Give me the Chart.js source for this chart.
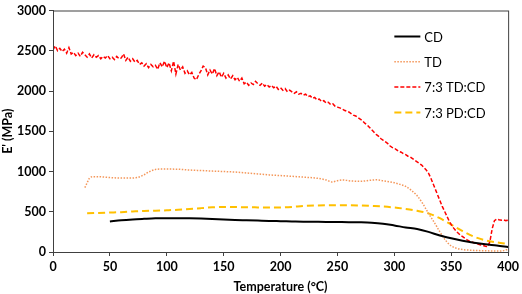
<!DOCTYPE html>
<html>
<head>
<meta charset="utf-8">
<script src="https://cdn.jsdelivr.net/npm/chart.js@4.4.1/dist/chart.umd.min.js"></script>
<style>
  html, body { margin: 0; padding: 0; background: #fff; }
  #wrap { width: 522px; height: 294px; position: relative; }
</style>
</head>
<body>
<div id="wrap"><canvas id="grafica"></canvas></div>
<script>
// ========== DATOS ==========
const tempCD = [50, 60, 70, 80, 90, 100, 110, 120, 130, 140, 150, 160, 170, 180, 190, 200, 210, 220, 230, 240, 250, 260, 270, 280, 290, 300, 310, 320, 330, 340, 350, 360, 370, 380, 390, 400];
const valCD = [380, 395, 405, 412, 418, 420, 420, 418, 415, 410, 403, 398, 394, 390, 386, 383, 380, 377, 375, 373, 372, 371, 369, 364, 352, 330, 305, 285, 250, 205, 170, 140, 115, 95, 80, 62];

const tempTD = [28, 30, 32, 35, 40, 50, 60, 70, 75, 80, 85, 90, 95, 100, 110, 120, 130, 140, 150, 160, 170, 180, 190, 200, 210, 220, 230, 240, 245, 250, 255, 260, 270, 280, 285, 290, 300, 305, 310, 315, 320, 325, 330, 335, 340, 345, 350, 355, 360, 370, 380, 390, 395, 400];
const valTD = [800, 860, 915, 935, 935, 925, 918, 920, 928, 960, 1000, 1025, 1030, 1030, 1028, 1018, 1012, 1005, 1000, 993, 982, 970, 958, 949, 940, 930, 920, 895, 870, 885, 895, 885, 878, 893, 897, 885, 860, 840, 815, 765, 700, 600, 480, 370, 250, 145, 75, 45, 30, 20, 15, 12, 15, 35];

const tempTDCD = [
  0, 2, 4, 6, 8, 10, 12, 14, 16, 18, 20, 22, 24, 26, 28, 30, 32, 34, 36, 38,
  40, 42, 44, 46, 48, 50, 52, 54, 56, 58, 60, 62, 64, 66, 68, 70, 72, 74, 76, 78,
  80, 82, 84, 86, 88, 90, 92, 94, 96, 98, 100, 102, 104, 106, 108, 110, 112, 114, 116, 118,
  120, 122, 124, 126, 128, 130, 132, 134, 136, 138, 140, 142, 144, 146, 148, 150, 152, 154, 156, 158,
  160, 162, 164, 166, 168, 170, 172, 174, 176, 178, 180, 182, 184, 186, 188, 190, 192, 194, 196, 198,
  200, 202, 204, 206, 208, 210, 212, 214, 216, 218, 220, 222, 224, 226, 228, 230, 232, 234, 236, 238,
  240, 242, 244, 246, 248, 250, 252, 254, 256, 258, 260, 262, 264, 266, 268, 270, 272, 274, 276, 278,
  280, 282, 284, 286, 288, 290, 292, 294, 296, 298, 300, 302, 304, 306, 308, 310, 312, 314, 316, 318,
  320, 322, 324, 326, 328, 330, 332, 334, 336, 338, 340, 342, 344, 346, 348, 350, 352, 354, 356, 358,
  360, 362, 364, 366, 368, 370, 372, 374, 376, 378, 380, 382, 384, 386, 388, 390, 392, 394, 396, 398, 400
];
const valTDCD = [
  2510, 2560, 2500, 2530, 2490, 2520, 2470, 2540, 2460, 2480, 2440, 2470, 2430, 2480, 2450, 2420, 2460, 2410, 2450, 2420,
  2440, 2400, 2430, 2410, 2440, 2400, 2420, 2390, 2430, 2400, 2410, 2460, 2380, 2420, 2370, 2400, 2360, 2380, 2330, 2350,
  2310, 2340, 2290, 2330, 2300, 2320, 2270, 2350, 2300, 2370, 2290, 2350, 2250, 2370, 2210, 2330, 2260, 2300, 2220, 2250,
  2200, 2230, 2160, 2140, 2200, 2250, 2310, 2290, 2200, 2260, 2210, 2280, 2190, 2240, 2170, 2220, 2160, 2200, 2150, 2190,
  2140, 2170, 2120, 2160, 2090, 2110, 2070, 2100, 2080, 2120, 2090, 2070, 2100, 2060, 2080, 2050, 2070, 2040, 2060, 2020,
  2040, 2010, 2030, 1990, 2010, 1990, 1970, 1990, 1960, 1970, 1950, 1960, 1930, 1940, 1910, 1920, 1890, 1900, 1870, 1880,
  1850, 1860, 1830, 1840, 1810, 1800, 1790, 1780, 1760, 1750, 1740, 1720, 1700, 1690, 1670, 1650, 1630, 1600, 1580, 1550,
  1520, 1490, 1460, 1440, 1410, 1390, 1370, 1350, 1320, 1300, 1290, 1270, 1250, 1240, 1220, 1210, 1190, 1180, 1160, 1140,
  1120, 1100, 1080, 1050, 1020, 980, 920, 850, 780, 710, 640, 570, 510, 450, 390, 340, 300, 265, 235, 210,
  190, 170, 150, 135, 125, 115, 105, 95, 88, 80, 72, 65, 130, 290, 390, 410, 400, 395, 400, 390, 395
];

const tempPDCD = [30, 40, 50, 60, 70, 80, 90, 100, 110, 120, 130, 140, 150, 160, 170, 180, 190, 200, 210, 220, 230, 240, 250, 260, 270, 280, 290, 300, 310, 320, 330, 340, 350, 360, 370, 380, 390, 400];
const valPDCD = [480, 485, 490, 495, 503, 510, 512, 518, 525, 535, 545, 555, 560, 558, 556, 554, 552, 553, 560, 572, 578, 580, 580, 582, 578, 572, 565, 553, 535, 512, 480, 420, 340, 260, 190, 145, 120, 100];

const etiquetas = ['CD', 'TD', '7:3 TD:CD', '7:3 PD:CD'];
const ticksX = [0, 50, 100, 150, 200, 250, 300, 350, 400];
const ticksY = [0, 500, 1000, 1500, 2000, 2500, 3000];

function puntos(xs, ys) {
  return xs.map((x, i) => ({ x: x, y: ys[i] }));
}

// ========== PLUGIN: MARCO Y LEYENDA ==========
const marcoLeyenda = {
  id: 'marcoLeyenda',
  afterDraw(chart) {
    const ctx = chart.ctx;
    const a = chart.chartArea;
    ctx.save();
    ctx.strokeStyle = '#404040';
    ctx.lineWidth = 1;
    ctx.strokeRect(a.left + 0.5, a.top + 0.5, a.right - a.left, a.bottom - a.top);

    // leyenda
    const x0 = a.left + (a.right - a.left) * 0.75;
    let y = a.top + 26;
    chart.data.datasets.forEach(ds => {
      ctx.beginPath();
      ctx.setLineDash(ds.borderDash || []);
      ctx.strokeStyle = ds.borderColor;
      ctx.lineWidth = ds.borderWidth;
      ctx.moveTo(x0, y);
      ctx.lineTo(x0 + 26, y);
      ctx.stroke();
      ctx.setLineDash([]);
      ctx.fillStyle = '#000';
      ctx.font = '13px Lato';
      ctx.textBaseline = 'middle';
      ctx.fillText(ds.label, x0 + 30, y + 1);
      y += 25.3;
    });
    ctx.restore();
  }
};

// ========== GRAFICA ==========
const fuenteEje = { family: 'Lato', size: 12.5, weight: 'bold' };
const ctx = document.getElementById('grafica');
new Chart(ctx, {
  type: 'line',
  data: {
    datasets: [
      {
        label: etiquetas[0],
        data: puntos(tempCD, valCD),
        borderColor: '#000000',
        borderWidth: 2,
        cubicInterpolationMode: 'monotone'
      },
      {
        label: etiquetas[1],
        data: puntos(tempTD, valTD),
        borderColor: '#F4975A',
        borderWidth: 1.5,
        borderDash: [1.5, 1.5],
        cubicInterpolationMode: 'monotone'
      },
      {
        label: etiquetas[2],
        data: puntos(tempTDCD, valTDCD),
        borderColor: '#FF0000',
        borderWidth: 1.5,
        borderDash: [4, 2]
      },
      {
        label: etiquetas[3],
        data: puntos(tempPDCD, valPDCD),
        borderColor: '#FFC000',
        borderWidth: 2,
        borderDash: [7, 4],
        cubicInterpolationMode: 'monotone'
      }
    ]
  },
  options: {
    responsive: true,
    maintainAspectRatio: false,
    animation: false,
    elements: { point: { radius: 0 } },
    layout: { padding: { top: 5, right: 11, left: 0, bottom: 0 } },
    plugins: {
      legend: { display: false },
      tooltip: { enabled: false }
    },
    scales: {
      x: {
        type: 'linear',
        min: 0,
        max: 400,
        afterBuildTicks: axis => { axis.ticks = ticksX.map(v => ({ value: v })); },
        afterFit: axis => { axis.height = 42; },
        grid: { display: true, drawOnChartArea: false, drawTicks: true, tickLength: 4, color: '#404040' },
        border: { color: '#404040' },
        ticks: { color: '#000', font: fuenteEje, padding: 3, maxRotation: 0, callback: v => String(v) },
        title: {
          display: true,
          text: 'Temperature (°C)',
          color: '#000',
          font: fuenteEje,
          padding: { top: 2, bottom: 0 }
        }
      },
      y: {
        min: 0,
        max: 3000,
        afterBuildTicks: axis => { axis.ticks = ticksY.map(v => ({ value: v })); },
        afterFit: axis => { axis.width = 53; },
        grid: { display: true, drawOnChartArea: false, drawTicks: true, tickLength: 4, color: '#404040' },
        border: { color: '#404040' },
        ticks: { color: '#000', font: fuenteEje, padding: 3, callback: v => String(v) },
        title: {
          display: true,
          text: "E' (MPa)",
          color: '#000',
          font: fuenteEje,
          padding: { top: 0, bottom: 1 }
        }
      }
    }
  },
  plugins: [marcoLeyenda]
});
</script>
</body>
</html>
